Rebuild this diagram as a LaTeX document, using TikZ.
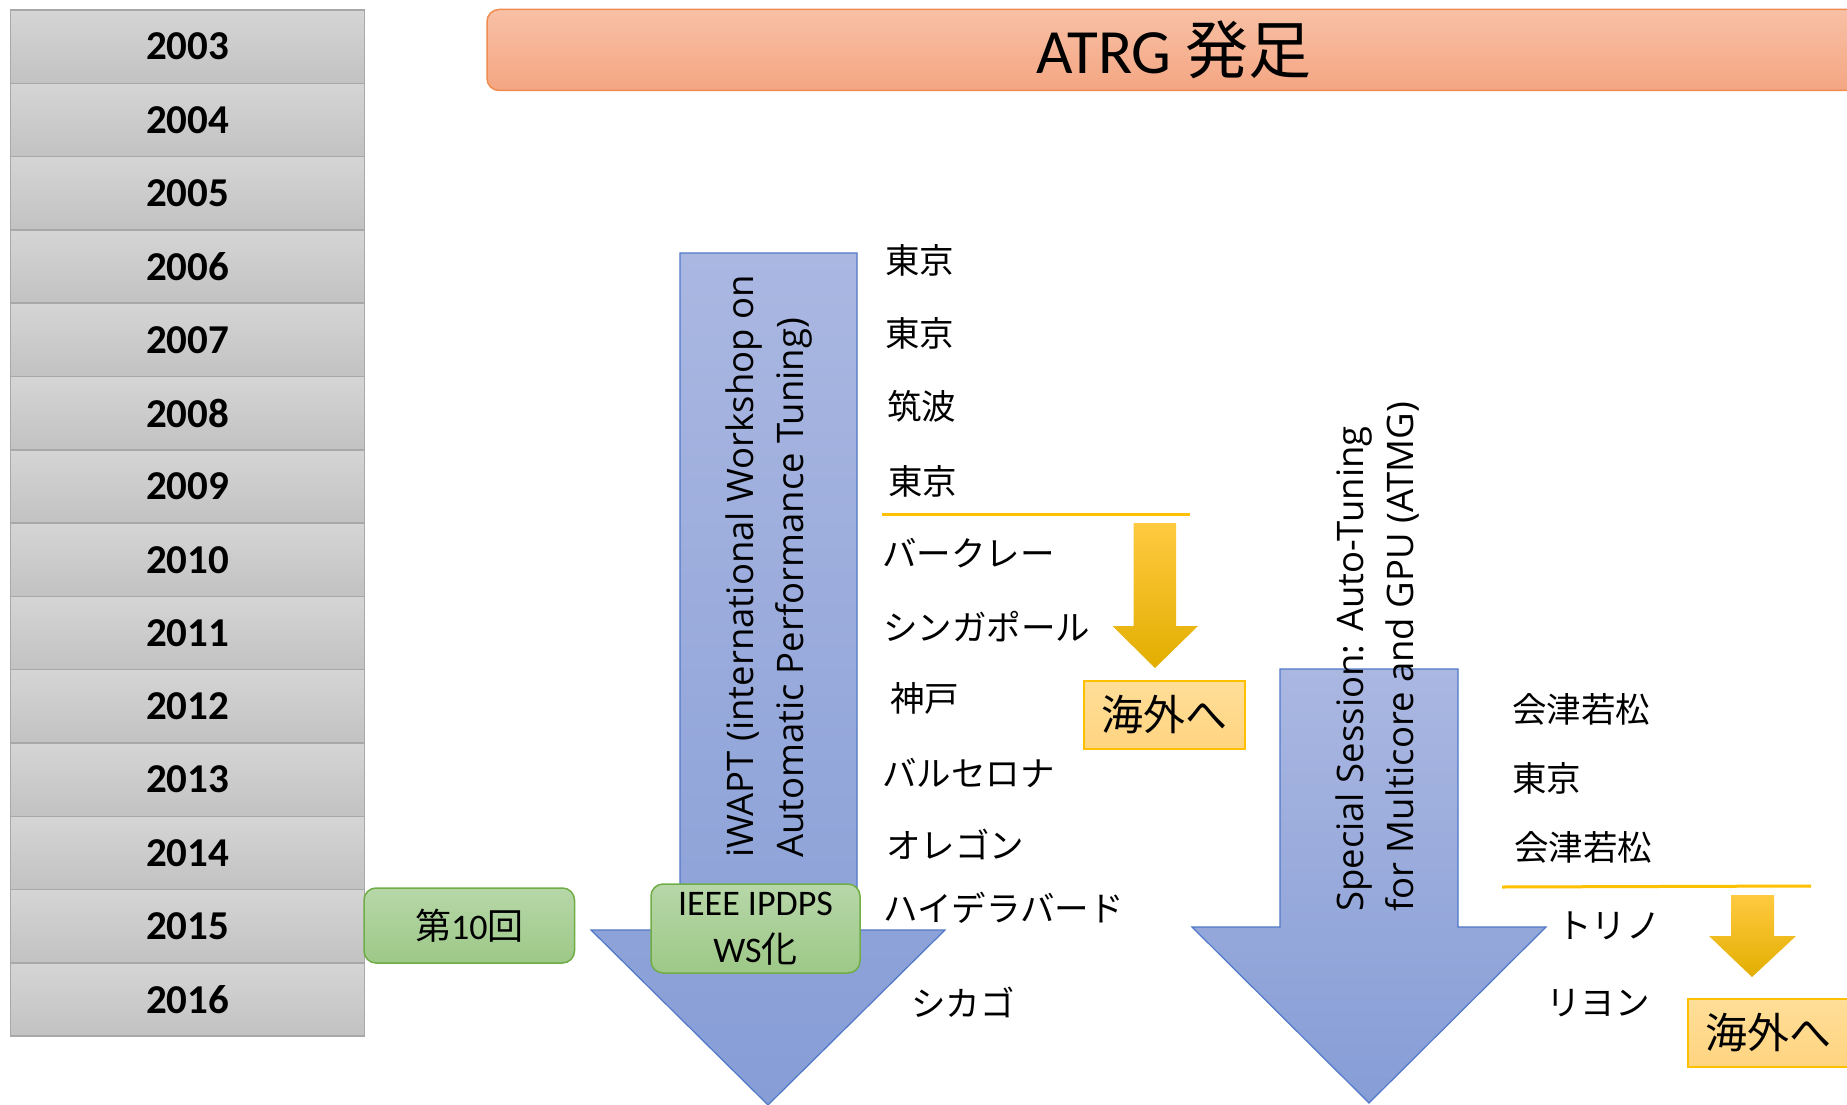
\documentclass[tikz,border=0pt]{standalone}
\usepackage{fontspec}
\setmainfont{Carlito}
\newfontfamily\jp{Noto Sans CJK JP}
\newfontfamily\os{Open Sans}
\definecolor{yrtop}{RGB}{213,213,213}
\definecolor{yrbot}{RGB}{194,194,194}
\definecolor{yrline}{RGB}{168,168,168}
\definecolor{tttop}{RGB}{248,192,165}
\definecolor{ttbot}{RGB}{244,166,130}
\definecolor{ttline}{RGB}{240,140,80}
\definecolor{bltop}{RGB}{170,183,225}
\definecolor{blbot}{RGB}{134,157,214}
\definecolor{blline}{RGB}{80,120,200}
\definecolor{grtop}{RGB}{183,215,168}
\definecolor{grbot}{RGB}{157,200,135}
\definecolor{grline}{RGB}{112,173,71}
\definecolor{ytop}{RGB}{255,202,64}
\definecolor{ymid}{RGB}{255,194,0}
\definecolor{ybot}{RGB}{226,174,0}
\definecolor{ktop}{RGB}{255,222,152}
\definecolor{kbot}{RGB}{255,212,128}
\definecolor{kline}{RGB}{255,192,0}
\definecolor{yline}{RGB}{255,192,0}
\begin{document}
\begin{tikzpicture}[x=1pt,y=-1pt,
  yearbox/.style={draw=yrline, line width=1.5pt, top color=yrtop, bottom color=yrbot,
    minimum width=354pt, minimum height=73.3pt, inner sep=0pt,
    font=\bfseries\fontsize{41}{49}\selectfont},
  titlebox/.style={draw=ttline, line width=1.5pt, top color=tttop, bottom color=ttbot,
    rounded corners=12pt, inner sep=0pt, font=\fontsize{63}{75}\selectfont},
  bluearrow/.style={draw=blline, line width=1.2pt, top color=bltop, bottom color=blbot},
  yelarrow/.style={top color=ytop, middle color=ymid, bottom color=ybot},
  greenbox/.style={draw=grline, line width=1.5pt, top color=grtop, bottom color=grbot,
    rounded corners=12pt, inner sep=0pt, font=\fontsize{36}{47}\selectfont, align=center},
  kaigai/.style={draw=kline, line width=1.5pt, top color=ktop, bottom color=kbot,
    minimum width=161pt, minimum height=68pt, inner sep=0pt,
    font=\jp\fontsize{42}{50}\selectfont},
  lab/.style={anchor=base west, inner sep=0pt, font=\jp\fontsize{34.5}{42}\selectfont},
  rottext/.style={rotate=90, anchor=base west, align=left, inner sep=0pt,
    font=\os\fontsize{36.5}{50}\selectfont},
  ysep/.style={draw=yline, line width=3pt}
]
\useasboundingbox (0,0) rectangle (1847,1105);
\clip (0,0) rectangle (1847,1105);
\fill[white] (0,0) rectangle (1847,1105);

% year column
\foreach \yr [count=\i from 0] in {2003,2004,2005,2006,2007,2008,2009,2010,2011,2012,2013,2014,2015,2016}
  \node[yearbox] (y\yr) at (187.7,{10+73.3*(\i+0.5)}) {\yr};

% title
\node[titlebox, minimum width=1374pt, minimum height=81pt] (title) at (1174,50) {ATRG {\jp 発足}};

% big blue arrows
\path[bluearrow] (680,253) -- (857,253) -- (857,930) -- (945,930) -- (768,1105)
  -- (591,930) -- (680,930) -- cycle;
\path[bluearrow] (1280,669) -- (1458,669) -- (1458,927) -- (1546,927) -- (1369,1103)
  -- (1192,927) -- (1280,927) -- cycle;

\node[rottext] (iwapt) at (803,858) {iWAPT (international Workshop on\\Automatic Performance Tuning)};
\node[rottext] (atmg) at (1413,912) {Special Session: Auto-Tuning\\for Multicore and GPU (ATMG)};

% green boxes
\node[greenbox, minimum width=210.5pt, minimum height=75pt] (tenth) at (469.25,925.5) {{\jp 第}10{\jp 回}};
\node[greenbox, minimum width=209pt, minimum height=89pt] (ipdps) at (755.5,928.5) {IEEE IPDPS\\WS{\jp 化}};

% venue labels (iWAPT)
\node[lab] (v06) at (885,273) {東京};
\node[lab] (v07) at (885,346) {東京};
\node[lab] (v08) at (887,419) {筑波};
\node[lab] (v09) at (888,494) {東京};
\node[lab] (v10) at (882,566) {バークレー};
\node[lab] (v11) at (883,640) {シンガポール};
\node[lab] (v12) at (890,711) {神戸};
\node[lab] (v13) at (882,786) {バルセロナ};
\node[lab] (v14) at (886,858) {オレゴン};
\node[lab] (v15) at (883,921) {ハイデラバード};
\node[lab] (v16) at (911,1016) {シカゴ};

% venue labels (ATMG)
\node[lab] (m12) at (1512,722) {会津若松};
\node[lab] (m13) at (1512,791) {東京};
\node[lab] (m14) at (1514,860) {会津若松};
\node[lab] (m15) at (1557,938) {トリノ};
\node[lab] (m16) at (1546,1015) {リヨン};

% separator lines
\coordinate (s1a) at (882,514);
\coordinate (s1b) at (1190,514);
\draw[ysep] (s1a) -- (s1b);
\coordinate (s2a) at (1502,887);
\coordinate (s2b) at (1811,886);
\draw[ysep] (s2a) -- (s2b);

% yellow arrows
\path[yelarrow] (1133.5,523) -- (1176,523) -- (1176,626) -- (1198,626) -- (1155,668)
  -- (1112.5,626) -- (1133.5,626) -- cycle;
\path[yelarrow] (1731,895) -- (1774,895) -- (1774,936) -- (1796,936) -- (1752,977)
  -- (1709,936) -- (1731,936) -- cycle;

% abroad boxes
\node[kaigai] (abroad1) at (1164.5,715) {海外へ};
\node[kaigai] (abroad2) at (1768.5,1033) {海外へ};
\end{tikzpicture}
\end{document}
